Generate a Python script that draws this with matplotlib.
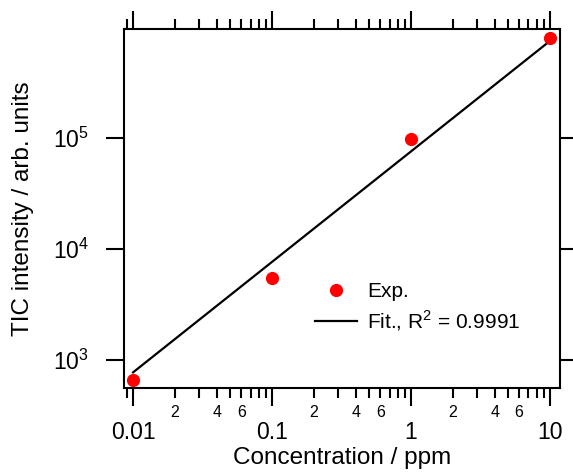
import matplotlib
matplotlib.use("Agg")
import matplotlib.pyplot as plt
from matplotlib.ticker import LogLocator, FuncFormatter, NullLocator
import numpy as np

plt.rcParams['font.family'] = ['Liberation Sans', 'DejaVu Sans']
plt.rcParams['mathtext.fontset'] = 'custom'
plt.rcParams['mathtext.rm'] = 'Liberation Sans'

# data
conc = [0.01, 0.1, 1, 10]
tic = [660, 5480, 98000, 790000]
fit_conc = [0.01, 10]
fit_tic = [775, 750000]

fig = plt.figure(figsize=(5.73, 4.72), dpi=100)
ax = fig.add_axes([124/573, 1 - 388/472, 436/573, 359/472])

ax.plot(fit_conc, fit_tic, color="black", lw=1.6, label="Fit., R$^2$ = 0.9991", zorder=2)
ax.plot(conc, tic, "o", color="red", ms=9.5, mec="none", label="Exp.", zorder=3)

ax.set_xscale("log")
ax.set_yscale("log")
ax.set_xlim(0.0086, 11.8)
ax.set_ylim(560, 960000)

for s in ax.spines.values():
    s.set_linewidth(1.5)

# x axis: major + minor ticks, labels on bottom only
ax.xaxis.set_major_locator(LogLocator(base=10, numticks=10))
ax.xaxis.set_minor_locator(LogLocator(base=10, subs=np.arange(2, 10), numticks=10))
ax.xaxis.set_major_formatter(FuncFormatter(lambda v, p: f"{v:g}"))

def minor_fmt(v, p):
    d = round(v / 10 ** np.floor(np.log10(v) + 1e-9))
    return str(d) if d in (2, 4, 6) else ""

ax.xaxis.set_minor_formatter(FuncFormatter(minor_fmt))
ax.tick_params(axis="x", which="major", direction="out", length=13, width=1.5,
               top=True, pad=11, labelsize=16.5)
ax.tick_params(axis="x", which="minor", direction="out", length=7, width=1.5,
               top=True, pad=5, labelsize=11.5)

# y axis: majors only, mirrored on right
ax.yaxis.set_major_locator(LogLocator(base=10, numticks=10))
ax.yaxis.set_minor_locator(NullLocator())
ax.yaxis.set_major_formatter(FuncFormatter(lambda v, p: r"$\mathregular{10^{%d}}$" % round(np.log10(v))))
ax.tick_params(axis="y", which="major", direction="out", length=13, width=1.5,
               right=True, pad=12, labelsize=16.5)

ax.set_xlabel("Concentration / ppm", fontsize=17.5, labelpad=2)
ax.set_ylabel("TIC intensity / arb. units", fontsize=17.5, labelpad=14)

handles, labels = ax.get_legend_handles_labels()
ax.legend(handles[::-1], labels[::-1], loc="lower left", bbox_to_anchor=(0.415, 0.125),
          frameon=False, fontsize=15, handlelength=2.0, handletextpad=0.5,
          labelspacing=0.35, borderpad=0)

fig.savefig("out.png", dpi=100)
